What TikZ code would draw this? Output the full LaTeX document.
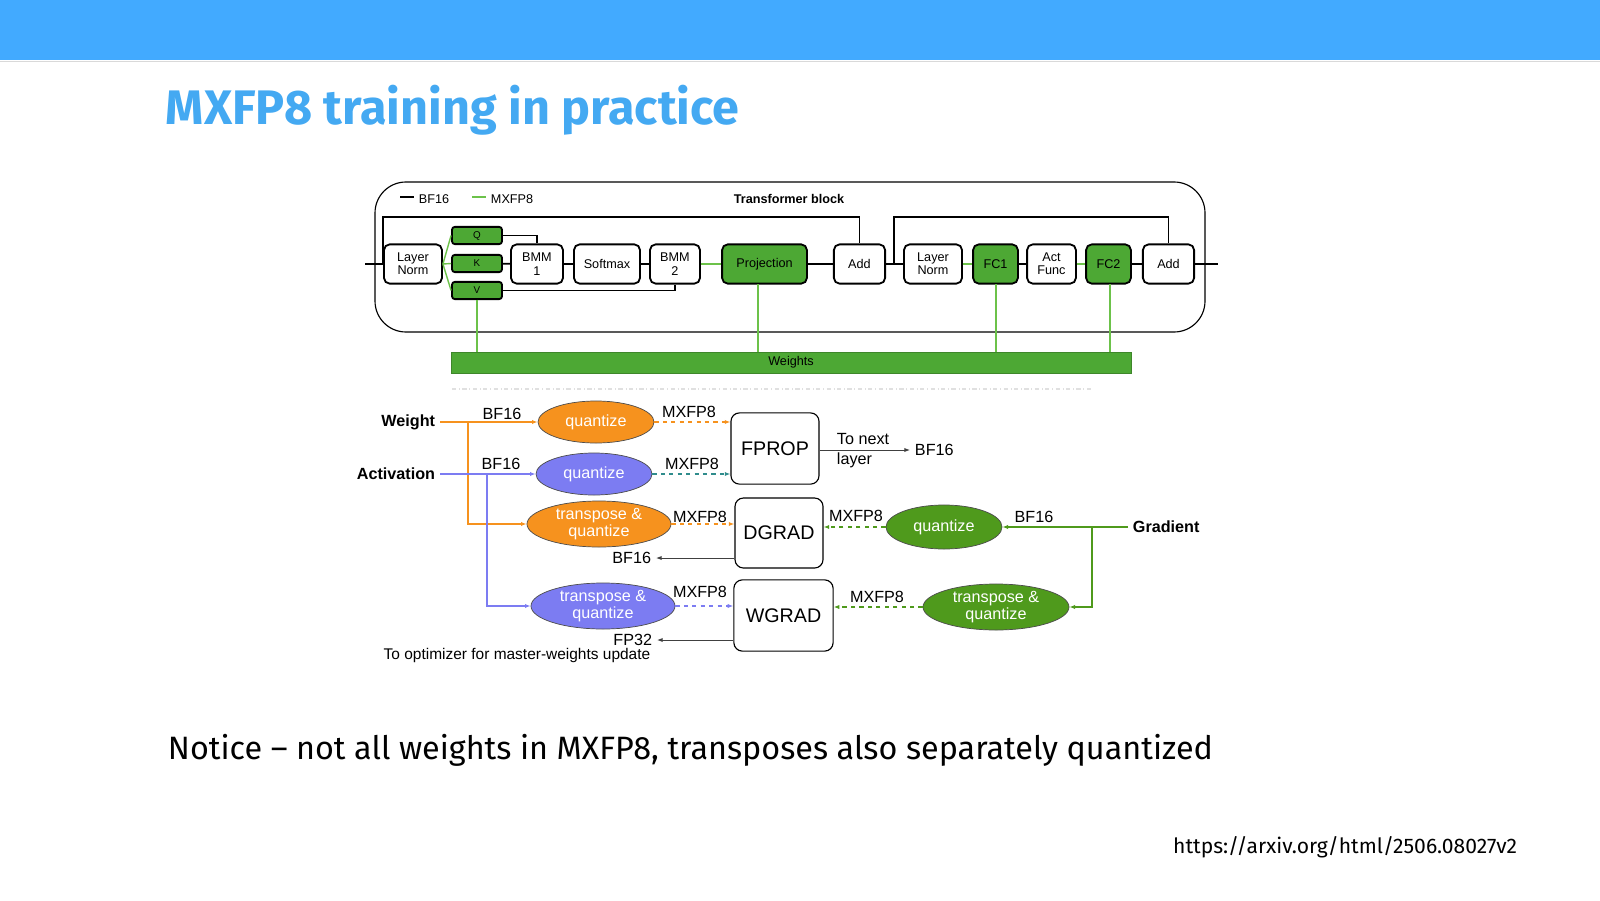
\documentclass[tikz,border=0pt]{standalone}
\usepackage{fontspec}
\setmainfont{Liberation Sans}
\newfontfamily\slidefont{Fira Sans}
\usetikzlibrary{shapes.geometric,arrows.meta}
\definecolor{barblue}{HTML}{42AAFF}
\definecolor{titleblue}{HTML}{44A9F2}
\definecolor{mxgreen}{HTML}{4DA834}
\definecolor{lgreen}{HTML}{6CC24A}
\definecolor{qorange}{HTML}{F6921E}
\definecolor{qpurple}{HTML}{7C7CF2}
\definecolor{qgreen}{HTML}{4F9A1C}
\definecolor{qteal}{HTML}{2F8C8C}
\tikzset{
  blk/.style={draw, line width=1.3pt, rounded corners=4pt, align=center, inner sep=0pt, font=\fontsize{9}{9.5}\selectfont},
  wblk/.style={blk, fill=white},
  gblk/.style={blk, fill=mxgreen},
  op/.style={draw, line width=0.8pt, rounded corners=6pt, minimum width=2.2cm, minimum height=1.78cm, font=\fontsize{14}{14}\selectfont},
  qell/.style={ellipse, draw=black!70, line width=0.5pt, text=white, align=center, inner sep=0pt, font=\fontsize{11.5}{12.5}\selectfont},
  lbl/.style={font=\fontsize{11.5}{12}\selectfont},
  tip/.style={-{Latex[length=4pt,width=3pt]}}
}
\begin{document}
\begin{tikzpicture}[x=0.025cm, y=-0.025cm]
    \useasboundingbox (0,0) rectangle (1600,901);

    % slide frame
    \fill[barblue] (0,0) rectangle (1600,60);
    \draw[black!15] (0,61) -- (1600,61);
    \node[anchor=base west, text=titleblue, font=\slidefont\fontsize{34.5}{34}\selectfont\bfseries] (title) at (161,124) {MXFP8 training in practice};

    % transformer block
    \draw[line width=0.8pt, rounded corners=22pt] (375,182) rectangle (1205,332);
    \draw[line width=1pt] (400,197) -- (414,197);
    \node[anchor=west, font=\fontsize{9}{9}\selectfont] (lgbf) at (414,199) {BF16};
    \draw[lgreen, line width=1pt] (472,197) -- (486,197);
    \node[anchor=west, font=\fontsize{9}{9}\selectfont] (lgmx) at (486,199) {MXFP8};
    \node[font=\fontsize{9}{9}\selectfont\bfseries] (tblock) at (789,199) {Transformer block};

    \node[wblk, minimum width=1.45cm, minimum height=0.98cm] (ln1) at (413,264) {Layer\\Norm};
    \node[gblk, rounded corners=2pt, minimum width=1.25cm, minimum height=0.43cm, font=\fontsize{7}{7}\selectfont] (q) at (477,235.5) {Q};
    \node[gblk, rounded corners=2pt, minimum width=1.25cm, minimum height=0.43cm, font=\fontsize{7}{7}\selectfont] (k) at (477,263.5) {K};
    \node[gblk, rounded corners=2pt, minimum width=1.25cm, minimum height=0.43cm, font=\fontsize{7}{7}\selectfont] (v) at (477,290.5) {V};
    \node[wblk, minimum width=1.3cm, minimum height=0.98cm] (bmm1) at (537,264) {BMM\\1};
    \node[wblk, minimum width=1.65cm, minimum height=0.98cm] (soft) at (607,264) {Softmax};
    \node[wblk, minimum width=1.25cm, minimum height=0.98cm] (bmm2) at (675,264) {BMM\\2};
    \node[gblk, minimum width=2.12cm, minimum height=0.98cm] (proj) at (764.5,264) {Projection};
    \node[wblk, minimum width=1.28cm, minimum height=0.98cm] (add1) at (859.5,264) {Add};
    \node[wblk, minimum width=1.45cm, minimum height=0.98cm] (ln2) at (933,264) {Layer\\Norm};
    \node[gblk, minimum width=1.12cm, minimum height=0.98cm] (fc1) at (995.5,264) {FC1};
    \node[wblk, minimum width=1.22cm, minimum height=0.98cm] (act) at (1051.5,264) {Act\\Func};
    \node[gblk, minimum width=1.12cm, minimum height=0.98cm] (fc2) at (1108.5,264) {FC2};
    \node[wblk, minimum width=1.28cm, minimum height=0.98cm] (add2) at (1168.5,264) {Add};
    \node[fill=mxgreen, draw=mxgreen!80!black, minimum width=17cm, minimum height=0.52cm, inner sep=0pt, font=\fontsize{9}{9}\selectfont] (wts) at (791,362.5) {Weights};

    % block wiring
    \begin{scope}[line width=1.2pt]
      \draw (365,264) -- (ln1.west);
      \draw (383,264) |- (383,217) -| (add1.north);
      \draw (894,264) |- (894,217) -| (add2.north);
      \draw (k) -- (bmm1);
      \draw (q.east) -| (bmm1.north);
      \draw (v.east) -| (bmm2.south);
      \draw (bmm1) -- (soft);
      \draw (soft) -- (bmm2);
      \draw (proj) -- (add1);
      \draw (add1) -- (ln2);
      \draw (fc1) -- (act);
      \draw (fc2) -- (add2);
      \draw (add2.east) -- (1218,264);
    \end{scope}
    \begin{scope}[lgreen, line width=1pt]
      \draw (ln1.east) -- (q.west);
      \draw (ln1.east) -- (k.west);
      \draw (ln1.east) -- (v.west);
      \draw (bmm2) -- (proj);
      \draw (ln2) -- (fc1);
      \draw (act) -- (fc2);
      \draw (477,299.5) -- (477,352);
      \draw (758,284) -- (758,352);
      \draw (996,284) -- (996,352);
      \draw (1110,284) -- (1110,352);
    \end{scope}
    \draw[black!12, dash dot, line width=0.8pt] (452,389) -- (1092,389);

    % quantization flow
    \node[anchor=east, font=\fontsize{11.5}{12}\selectfont\bfseries] (weight) at (440,422) {Weight};
    \node[anchor=east, font=\fontsize{11.5}{12}\selectfont\bfseries] (activ) at (440,474) {Activation};
    \node[anchor=west, font=\fontsize{11.5}{12}\selectfont\bfseries] (grad) at (1128,527) {Gradient};

    \node[qell, fill=qorange, minimum width=2.9cm, minimum height=1.05cm] (qw) at (596,422) {quantize};
    \node[qell, fill=qpurple, minimum width=2.9cm, minimum height=1.05cm] (qa) at (594,474) {quantize};
    \node[qell, fill=qorange, minimum width=3.6cm, minimum height=1.15cm] (tqw) at (599,524) {transpose \&\\quantize};
    \node[qell, fill=qpurple, minimum width=3.6cm, minimum height=1.15cm] (tqa) at (603,606) {transpose \&\\quantize};
    \node[qell, fill=qgreen, minimum width=2.9cm, minimum height=1.1cm] (qg) at (944,527) {quantize};
    \node[qell, fill=qgreen, minimum width=3.65cm, minimum height=1.15cm] (tqg) at (996,607) {transpose \&\\quantize};

    \node[op] (fprop) at (775,448.5) {FPROP};
    \node[op, minimum height=1.75cm] (dgrad) at (779,533) {DGRAD};
    \node[op, minimum width=2.48cm, minimum height=1.78cm] (wgrad) at (783.5,615.5) {WGRAD};

    \draw[qorange, line width=0.9pt, tip] (weight.east) -- (qw.west);
    \draw[qorange, line width=0.9pt, tip] (468,422) |- (tqw.west);
    \draw[qpurple, line width=0.9pt, tip] (activ.east) -- (qa.west);
    \draw[qpurple, line width=0.9pt, tip] (487,474) |- (tqa.west);
    \draw[qgreen, line width=0.9pt, tip] (grad.west) -- (qg.east);
    \draw[qgreen, line width=0.9pt, tip] (1092,527) |- (tqg.east);

    \draw[qorange, dashed, line width=0.9pt, tip] (qw.east) -- (fprop.west |- qw.east);
    \draw[qteal, dashed, line width=0.9pt, tip] (qa.east) -- (fprop.west |- qa.east);
    \draw[qorange, dashed, line width=0.9pt, tip] (tqw.east) -- (dgrad.west |- tqw.east);
    \draw[qpurple, dashed, line width=0.9pt, tip] (tqa.east) -- (wgrad.west |- tqa.east);
    \draw[qgreen, dashed, line width=0.9pt, tip] (qg.west) -- (dgrad.east |- qg.west);
    \draw[qgreen, dashed, line width=0.9pt, tip] (tqg.west) -- (wgrad.east |- tqg.west);

    \node[lbl] (bfw) at (502,414) {BF16};
    \node[lbl] (bfa) at (501,464) {BF16};
    \node[lbl] (bfg) at (1034,517) {BF16};
    \node[lbl] (mx1) at (689,412) {MXFP8};
    \node[lbl] (mx2) at (692,464) {MXFP8};
    \node[lbl] (mx3) at (700,517) {MXFP8};
    \node[lbl] (mx4) at (700,592) {MXFP8};
    \node[lbl] (mx5) at (856,516) {MXFP8};
    \node[lbl] (mx6) at (877,597) {MXFP8};

    \node[lbl, anchor=west] (bfout) at (910,450) {BF16};
    \draw[black!75, line width=0.7pt, tip] (fprop.east |- bfout.west) -- (bfout.west);
    \node[lbl, anchor=west] (nexta) at (832,439) {To next};
    \node[lbl, anchor=west] (nextb) at (832,460) {layer};
    \node[lbl, anchor=east] (bfd) at (656,558) {BF16};
    \draw[black!75, line width=0.7pt, tip] (dgrad.west |- bfd.east) -- (bfd.east);
    \node[lbl, anchor=east] (fp32) at (657,640) {FP32};
    \draw[black!75, line width=0.7pt, tip] (wgrad.west |- fp32.east) -- (fp32.east);
    \node[lbl, font=\fontsize{11}{11}\selectfont] (opt) at (517,655) {To optimizer for master-weights update};

    % slide text
    \node[anchor=base west, font=\slidefont\fontsize{23}{23}\selectfont] (notice) at (163,759) {Notice \textendash{} not all weights in MXFP8, transposes also separately quantized};
    \node[anchor=base east, font=\slidefont\fontsize{15}{15}\selectfont] (url) at (1522,853) {https://arxiv.org/html/2506.08027v2};
\end{tikzpicture}
\end{document}
